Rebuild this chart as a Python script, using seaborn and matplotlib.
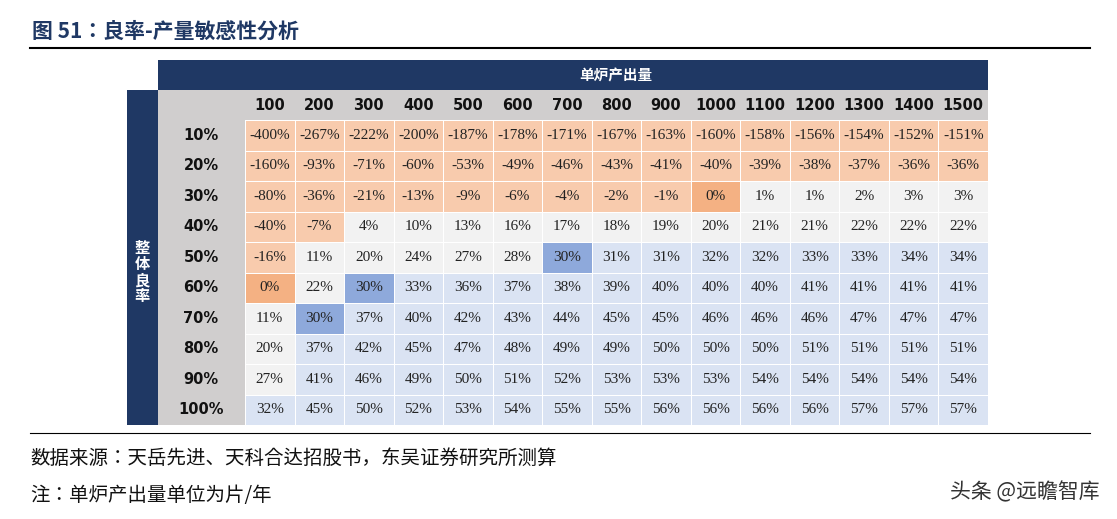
import matplotlib
matplotlib.use("Agg")
import matplotlib.pyplot as plt
import numpy as np
import pandas as pd
import seaborn as sns
from matplotlib import font_manager
from matplotlib.colors import ListedColormap
from matplotlib.patches import Rectangle
from matplotlib.lines import Line2D

# pick an installed CJK font by its registered name
cjk_names = sorted({f.name for f in font_manager.fontManager.ttflist if "CJK" in f.name})
cjk = next((n for n in cjk_names if "SC" in n), cjk_names[0] if cjk_names else "DejaVu Sans")
plt.rcParams["font.family"] = [cjk, "DejaVu Sans"]

outputs = [100, 200, 300, 400, 500, 600, 700, 800, 900, 1000, 1100, 1200, 1300, 1400, 1500]
yields = ["10%", "20%", "30%", "40%", "50%", "60%", "70%", "80%", "90%", "100%"]
values = [
    [-400, -267, -222, -200, -187, -178, -171, -167, -163, -160, -158, -156, -154, -152, -151],
    [-160, -93, -71, -60, -53, -49, -46, -43, -41, -40, -39, -38, -37, -36, -36],
    [-80, -36, -21, -13, -9, -6, -4, -2, -1, 0, 1, 1, 2, 3, 3],
    [-40, -7, 4, 10, 13, 16, 17, 18, 19, 20, 21, 21, 22, 22, 22],
    [-16, 11, 20, 24, 27, 28, 30, 31, 31, 32, 32, 33, 33, 34, 34],
    [0, 22, 30, 33, 36, 37, 38, 39, 40, 40, 40, 41, 41, 41, 41],
    [11, 30, 37, 40, 42, 43, 44, 45, 45, 46, 46, 46, 47, 47, 47],
    [20, 37, 42, 45, 47, 48, 49, 49, 50, 50, 50, 51, 51, 51, 51],
    [27, 41, 46, 49, 50, 51, 52, 53, 53, 53, 54, 54, 54, 54, 54],
    [32, 45, 50, 52, 53, 54, 55, 55, 56, 56, 56, 56, 57, 57, 57],
]

df = pd.DataFrame(values, index=yields, columns=outputs)
vals = df.values
# colour classes: negative, zero, 0-30, exactly 30, above 30
cls = np.select([vals < 0, vals == 0, vals < 30, vals == 30], [0, 1, 2, 3], 4)
cmap = ListedColormap(["#F8CBAD", "#F4B183", "#F2F2F2", "#8EA9DB", "#DAE3F3"])
annot = df.map(lambda v: f"{v}%")

W, H = 1117, 519
fig = plt.figure(figsize=(W / 100, H / 100), dpi=100)

def fx(x):
    return x / W

def fy(y):
    return 1 - y / H

def box(x0, y0, x1, y1, color):
    fig.add_artist(Rectangle((fx(x0), fy(y1)), fx(x1 - x0), (y1 - y0) / H,
                             transform=fig.transFigure, color=color, lw=0))

ax = fig.add_axes([fx(245), fy(425), fx(988 - 245), (425 - 120) / H])
sns.heatmap(cls, ax=ax, cmap=cmap, vmin=-0.5, vmax=4.5, cbar=False,
            annot=annot.values, fmt="", linewidths=0.4, linecolor="white",
            annot_kws={"fontsize": 11, "color": "#222222", "family": "Liberation Serif"})
ax.set_xticks([])
ax.set_yticks([])

navy = "#1F3864"
grey = "#D0CECE"
box(158, 60, 988, 90, navy)
box(158, 90, 988, 120, grey)
box(127, 90, 158, 425, navy)
box(158, 120, 245, 425, grey)
fig.text(fx(616), fy(75), "单炉产出量", color="white", fontsize=10.5, weight="bold",
         ha="center", va="center")
cw = (988 - 245) / len(outputs)
for i, o in enumerate(outputs):
    fig.text(fx(245 + cw * (i + 0.5)), fy(105), str(o), fontsize=10.5, weight="bold",
             ha="center", va="center", color="#111111", family="DejaVu Sans")
rh = (425 - 120) / len(yields)
for j, y in enumerate(yields):
    fig.text(fx(201), fy(120 + rh * (j + 0.5)), y, fontsize=10.5, weight="bold",
             ha="center", va="center", color="#111111", family="DejaVu Sans")
fig.text(fx(142.5), fy(272), "整\n体\n良\n率", color="white", fontsize=11,
         weight="bold", ha="center", va="center", linespacing=1.0)

fig.text(fx(32), fy(31), "图 51：良率-产量敏感性分析", fontsize=15, weight="bold",
         color="#1F3864", va="center")
fig.add_artist(Line2D([fx(30), fx(1090)], [fy(48), fy(48)], color="black", lw=1.5))
fig.add_artist(Line2D([fx(30), fx(1090)], [fy(433), fy(433)], color="black", lw=0.8))
fig.text(fx(30), fy(458), "数据来源：天岳先进、天科合达招股书，东吴证券研究所测算",
         fontsize=14, va="center", color="#111111")
fig.text(fx(30), fy(495), "注：单炉产出量单位为片/年", fontsize=14, va="center", color="#111111")
fig.text(fx(1100), fy(492), "头条 @远瞻智库", fontsize=15, ha="right", va="center",
         color="#333333")

fig.savefig("out.png", dpi=100)
